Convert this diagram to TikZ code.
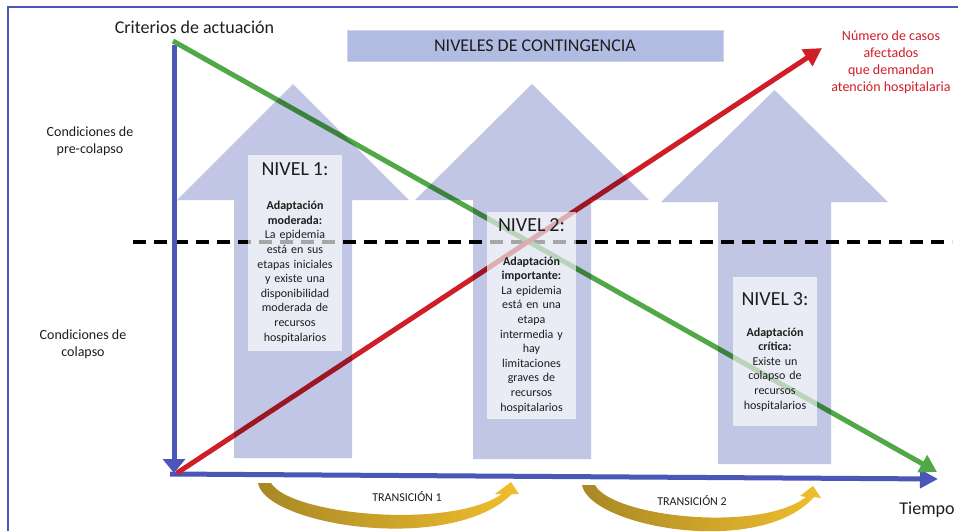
\documentclass[tikz,border=0pt]{standalone}
\usepackage{fontspec}
\setmainfont{Carlito}
\usetikzlibrary{arrows.meta}
\definecolor{axisblue}{RGB}{74,86,184}
\definecolor{lgreen}{RGB}{80,168,70}
\definecolor{lred}{RGB}{208,30,40}
\definecolor{arrowfill}{RGB}{192,198,228}
\definecolor{titlefill}{RGB}{178,188,226}
\definecolor{titledraw}{RGB}{205,211,236}
\definecolor{goldA}{RGB}{168,136,38}
\definecolor{goldB}{RGB}{240,190,45}
\definecolor{txt}{RGB}{30,30,30}
\begin{document}
\begin{tikzpicture}[x=1pt,y=-1pt,
  axis/.style={axisblue,line width=5pt},
  trend/.style={line width=5pt},
  blockarrow/.style={fill=arrowfill},
  lvlbox/.style={fill=white,fill opacity=0.65,text opacity=1,inner sep=0pt,align=center,text=txt,font=\fontsize{12}{14.6}\selectfont},
  lbl/.style={text=txt,align=center,inner sep=0pt},
  goldarrow/.style={left color=goldA,right color=goldB}]
\useasboundingbox (0,0) rectangle (958,531);
\fill[white] (0,0) rectangle (958,531);
% frame
\draw[axisblue,line width=1.6pt] (8,531) -- (8,7) -- (958,7);
% coordinates
\coordinate (vtop) at (174,45);
\coordinate (vbot) at (174,473);
\coordinate (hstart) at (170,474);
\coordinate (hend) at (938,479);
\coordinate (gstart) at (173,41);
\coordinate (gend) at (937,472);
\coordinate (rstart) at (177,473);
\coordinate (rend) at (822,48);
\coordinate (dl) at (133,242);
\coordinate (dr) at (952,242);
% dashed threshold
\draw[black,line width=3.2pt,dash pattern=on 13pt off 8pt] (dl) -- (dr);
% axes
\draw[axis,-{Triangle[length=18pt,width=18pt]}] (hstart) -- (hend);
\draw[axis,-{Triangle[length=14pt,width=22pt]}] (vtop) -- (vbot);
% trend lines
\draw[trend,lgreen,-{Triangle[length=17pt,width=19pt]}] (gstart) -- (gend);
\draw[trend,lred,-{Triangle[length=18pt,width=19pt]}] (rstart) -- (rend);
% block arrows
\begin{scope}[blend mode=multiply]
\fill[blockarrow] (234,458) -- (234,200) -- (177,200) -- (293,84) -- (409,200) -- (352,200) -- (352,458) -- cycle;
\fill[blockarrow] (473,459) -- (473,200) -- (415,200) -- (532,84) -- (649,200) -- (591,200) -- (591,459) -- cycle;
\fill[blockarrow] (718,464) -- (718,202) -- (661,202) -- (774.5,90) -- (888,202) -- (831,202) -- (831,464) -- cycle;
\end{scope}
% title
\node[fill=titlefill,draw=titledraw,line width=1pt,minimum width=376pt,minimum height=31pt,inner sep=0pt,text=txt,font=\fontsize{18}{21}\selectfont] (title) at (535,45.5) {NIVELES DE CONTINGENCIA};
% level boxes
\node[lvlbox,text width=94pt,minimum height=196pt] (b1) at (295,253)
 {{\fontsize{20}{24}\selectfont NIVEL 1:\par}\vspace{19.4pt}\textbf{Adaptación}\\\textbf{moderada:}\\La epidemia\\está en sus\\etapas iniciales\\y existe una\\disponibilidad\\moderada de\\recursos\\hospitalarios};
\node[lvlbox,text width=89pt,minimum height=207pt] (b2) at (531.5,315.5)
 {{\fontsize{20}{24}\selectfont NIVEL 2:\par}\vspace{19.4pt}\textbf{Adaptación}\\\textbf{importante:}\\La epidemia\\está en una\\etapa\\intermedia y\\hay\\limitaciones\\graves de\\recursos\\hospitalarios};
\node[lvlbox,text width=84pt,minimum height=149pt] (b3) at (775,351.5)
 {{\fontsize{20}{24}\selectfont NIVEL 3:\par}\vspace{16.4pt}\textbf{Adaptación}\\\textbf{crítica:}\\Existe un\\colapso de\\recursos\\hospitalarios\\[3pt]};
% labels
\node[lbl,font=\fontsize{18}{21}\selectfont] (crit) at (194.5,27) {Criterios de actuación};
\node[lbl,font=\fontsize{18}{21}\selectfont] (tiempo) at (927,510) {Tiempo};
\node[lbl,font=\fontsize{14}{17}\selectfont] (pre) at (90,141) {Condiciones de\\pre-colapso};
\node[lbl,font=\fontsize{14}{17}\selectfont] (col) at (83,344) {Condiciones de\\colapso};
\node[lbl,text=lred,font=\fontsize{14}{17}\selectfont] (casos) at (891,62) {Número de casos\\afectados\\que demandan\\atención hospitalaria};
\node[lbl,font=\fontsize{12}{14}\selectfont] (tr1) at (407,497) {TRANSICIÓN 1};
\node[lbl,font=\fontsize{12}{14}\selectfont] (tr2) at (692,501) {TRANSICIÓN 2};
% transition arrows
\shade[goldarrow] (258,483) .. controls (265,525) and (450,555) .. (512,494) -- (519,494) -- (511,482) -- (495,494) -- (502,494) .. controls (450,530) and (290,515) .. (271,483) -- cycle;
\shade[goldarrow] (582,485) .. controls (590,527) and (760,558) .. (814,497) -- (821,498) -- (813,486) -- (800,496) -- (806,497) .. controls (760,533) and (612,517) .. (595,485) -- cycle;
\end{tikzpicture}
\end{document}
